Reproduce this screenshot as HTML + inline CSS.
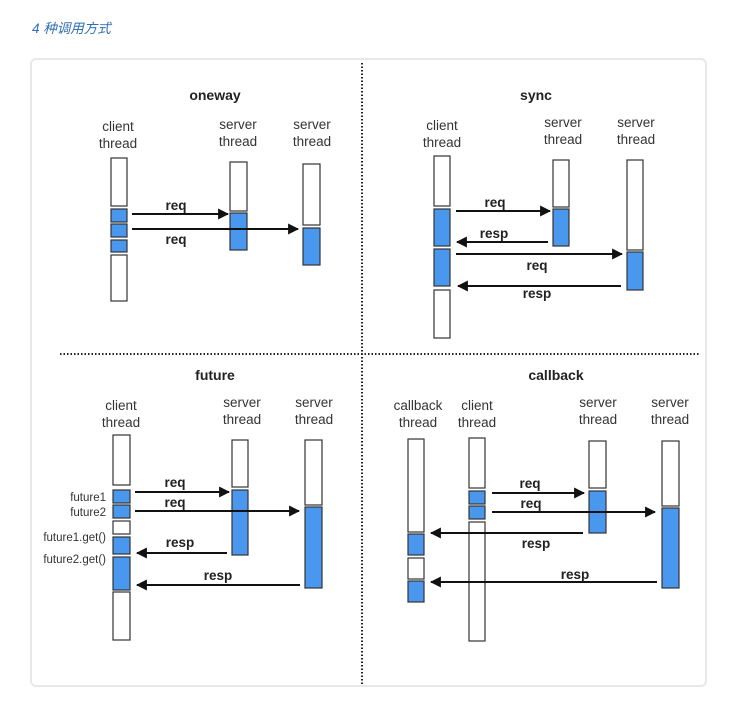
<!DOCTYPE html>
<html><head><meta charset="utf-8">
<style>
html,body{margin:0;padding:0;background:#fff;width:748px;height:703px;overflow:hidden}
svg{display:block}
text{font-family:"Liberation Sans",Arial,sans-serif;fill:#222}
.t{font-size:14px;font-weight:bold;text-anchor:middle}
.l{font-size:13.5px;text-anchor:middle;fill:#333}
.a{font-size:13.5px;font-weight:bold;text-anchor:middle}
.f{font-size:11.5px;text-anchor:end;fill:#333}
.w{fill:#fff;stroke:#333;stroke-width:1.2}
.b{fill:#4a98ee;stroke:#333;stroke-width:1.2}
.ln{stroke:#111;stroke-width:2;fill:none}
</style></head><body>
<svg width="748" height="703" viewBox="0 0 748 703" xmlns="http://www.w3.org/2000/svg">
<defs>
<marker id="ar" viewBox="0 0 10 10" refX="9" refY="5" markerWidth="5.5" markerHeight="5.5" orient="auto-start-reverse" markerUnits="strokeWidth">
<path d="M0,0 L10,5 L0,10 z" fill="#111"/></marker>
</defs>
<text x="32" y="33" style="font-family:'Liberation Sans','Noto Sans CJK SC',sans-serif;font-size:13.5px;font-style:italic;fill:#2f6fb5">4 种调用方式</text>
<rect x="31" y="59" width="675" height="627" rx="5" fill="#fff" stroke="#e8e8e8" stroke-width="2"/>
<line x1="362" y1="63" x2="362" y2="686" stroke="#222" stroke-width="2" stroke-dasharray="1.5 2"/>
<line x1="60" y1="354" x2="700" y2="354" stroke="#222" stroke-width="2" stroke-dasharray="1.5 2"/>

<!-- oneway -->
<text class="t" x="215" y="100">oneway</text>
<text class="l" x="118" y="131">client</text><text class="l" x="118" y="148">thread</text>
<text class="l" x="238" y="129">server</text><text class="l" x="238" y="146">thread</text>
<text class="l" x="312" y="129">server</text><text class="l" x="312" y="146">thread</text>
<rect class="w" x="111" y="158" width="16" height="48"/>
<rect class="b" x="111" y="209" width="16" height="13"/>
<rect class="b" x="111" y="224" width="16" height="13"/>
<rect class="b" x="111" y="240" width="16" height="12"/>
<rect class="w" x="111" y="255" width="16" height="46"/>
<rect class="w" x="230" y="162" width="17" height="49"/>
<rect class="b" x="230" y="213" width="17" height="37"/>
<rect class="w" x="303" y="164" width="17" height="61"/>
<rect class="b" x="303" y="228" width="17" height="37"/>
<line class="ln" x1="132" y1="214" x2="228" y2="214" marker-end="url(#ar)"/>
<line class="ln" x1="132" y1="229" x2="298" y2="229" marker-end="url(#ar)"/>
<text class="a" x="176" y="210">req</text>
<text class="a" x="176" y="244">req</text>

<!-- sync -->
<text class="t" x="536" y="100">sync</text>
<text class="l" x="442" y="130">client</text><text class="l" x="442" y="147">thread</text>
<text class="l" x="563" y="127">server</text><text class="l" x="563" y="144">thread</text>
<text class="l" x="636" y="127">server</text><text class="l" x="636" y="144">thread</text>
<rect class="w" x="434" y="156" width="16" height="50"/>
<rect class="b" x="434" y="209" width="16" height="37"/>
<rect class="b" x="434" y="249" width="16" height="37"/>
<rect class="w" x="434" y="290" width="16" height="48"/>
<rect class="w" x="553" y="160" width="16" height="47"/>
<rect class="b" x="553" y="209" width="16" height="37"/>
<rect class="w" x="627" y="160" width="16" height="90"/>
<rect class="b" x="627" y="252" width="16" height="38"/>
<line class="ln" x1="456" y1="211" x2="550" y2="211" marker-end="url(#ar)"/>
<line class="ln" x1="548" y1="242" x2="457" y2="242" marker-end="url(#ar)"/>
<line class="ln" x1="456" y1="254" x2="622" y2="254" marker-end="url(#ar)"/>
<line class="ln" x1="621" y1="286" x2="458" y2="286" marker-end="url(#ar)"/>
<text class="a" x="495" y="207">req</text>
<text class="a" x="494" y="238">resp</text>
<text class="a" x="537" y="270">req</text>
<text class="a" x="537" y="298">resp</text>

<!-- future -->
<text class="t" x="215" y="380">future</text>
<text class="l" x="121" y="410">client</text><text class="l" x="121" y="427">thread</text>
<text class="l" x="242" y="407">server</text><text class="l" x="242" y="424">thread</text>
<text class="l" x="314" y="407">server</text><text class="l" x="314" y="424">thread</text>
<rect class="w" x="113" y="435" width="17" height="50"/>
<rect class="b" x="113" y="490" width="17" height="13"/>
<rect class="b" x="113" y="505" width="17" height="13"/>
<rect class="w" x="113" y="521" width="17" height="13"/>
<rect class="b" x="113" y="537" width="17" height="17"/>
<rect class="b" x="113" y="557" width="17" height="33"/>
<rect class="w" x="113" y="592" width="17" height="48"/>
<rect class="w" x="232" y="440" width="16" height="47"/>
<rect class="b" x="232" y="490" width="16" height="65"/>
<rect class="w" x="305" y="440" width="17" height="65"/>
<rect class="b" x="305" y="507" width="17" height="81"/>
<text class="f" x="106" y="501">future1</text>
<text class="f" x="106" y="516">future2</text>
<text class="f" x="106" y="541">future1.get()</text>
<text class="f" x="106" y="563">future2.get()</text>
<line class="ln" x1="135" y1="492" x2="229" y2="492" marker-end="url(#ar)"/>
<line class="ln" x1="135" y1="511" x2="299" y2="511" marker-end="url(#ar)"/>
<line class="ln" x1="227" y1="553" x2="137" y2="553" marker-end="url(#ar)"/>
<line class="ln" x1="300" y1="585" x2="137" y2="585" marker-end="url(#ar)"/>
<text class="a" x="175" y="487">req</text>
<text class="a" x="175" y="507">req</text>
<text class="a" x="180" y="547">resp</text>
<text class="a" x="218" y="580">resp</text>

<!-- callback -->
<text class="t" x="556" y="380">callback</text>
<text class="l" x="418" y="410">callback</text><text class="l" x="418" y="427">thread</text>
<text class="l" x="477" y="410">client</text><text class="l" x="477" y="427">thread</text>
<text class="l" x="598" y="407">server</text><text class="l" x="598" y="424">thread</text>
<text class="l" x="670" y="407">server</text><text class="l" x="670" y="424">thread</text>
<rect class="w" x="408" y="439" width="16" height="93"/>
<rect class="b" x="408" y="534" width="16" height="21"/>
<rect class="w" x="408" y="558" width="16" height="21"/>
<rect class="b" x="408" y="581" width="16" height="21"/>
<rect class="w" x="469" y="438" width="16" height="50"/>
<rect class="b" x="469" y="491" width="16" height="13"/>
<rect class="b" x="469" y="506" width="16" height="13"/>
<rect class="w" x="469" y="522" width="16" height="119"/>
<rect class="w" x="589" y="441" width="17" height="47"/>
<rect class="b" x="589" y="491" width="17" height="42"/>
<rect class="w" x="662" y="441" width="17" height="65"/>
<rect class="b" x="662" y="508" width="17" height="80"/>
<line class="ln" x1="492" y1="493" x2="584" y2="493" marker-end="url(#ar)"/>
<line class="ln" x1="492" y1="512" x2="655" y2="512" marker-end="url(#ar)"/>
<line class="ln" x1="583" y1="533" x2="431" y2="533" marker-end="url(#ar)"/>
<line class="ln" x1="657" y1="582" x2="431" y2="582" marker-end="url(#ar)"/>
<text class="a" x="530" y="488">req</text>
<text class="a" x="531" y="508">req</text>
<text class="a" x="536" y="548">resp</text>
<text class="a" x="575" y="579">resp</text>
</svg>
</body></html>
